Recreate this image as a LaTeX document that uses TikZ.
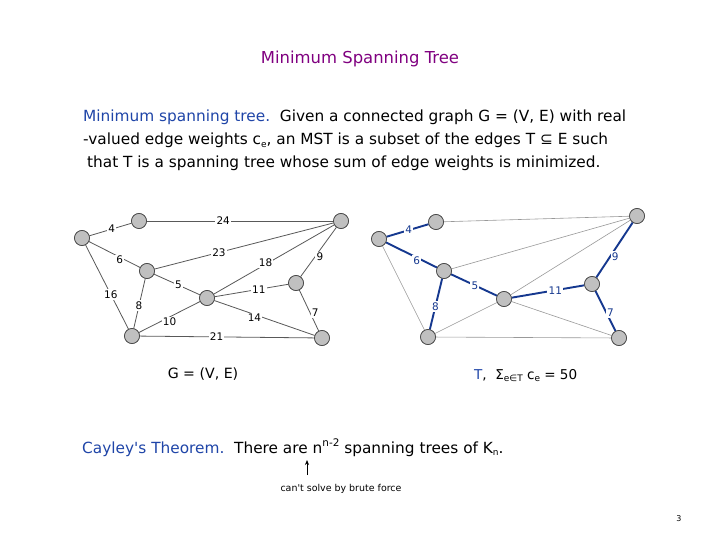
\documentclass[tikz,border=0pt]{standalone}
\usepackage{fontspec}
\setmainfont{DejaVu Sans}[Ligatures=TeXOff]
\usetikzlibrary{arrows.meta}
\definecolor{ttl}{HTML}{800080}
\definecolor{tblue}{HTML}{1F45A8}
\definecolor{eblue}{HTML}{15388F}
\definecolor{vgray}{HTML}{C0C0C0}
\newcommand\lowsub[1]{\raisebox{-0.35ex}{\fontsize{9}{9}\selectfont #1}}
\newcommand\highsup[1]{\raisebox{0.75ex}{\fontsize{10.5}{10.5}\selectfont #1}}
\tikzset{
  vtx/.style={circle,draw=black!75,line width=0.6bp,fill=vgray,minimum size=15bp,inner sep=0},
  gedge/.style={draw=black!65,line width=0.8bp},
  tedge/.style={draw=eblue,line width=1.9bp},
  ledge/.style={draw=black!40,line width=0.6bp},
  wlab/.style={fill=white,inner sep=1.2bp,font=\fontsize{10.5}{10.5}\selectfont},
  blab/.style={wlab,text=eblue},
  txt/.style={anchor=base west,inner sep=0,font=\fontsize{15.4}{15.4}\selectfont},
}
\begin{document}
\begin{tikzpicture}[x=1bp,y=-1bp]
\useasboundingbox (0,0) rectangle (720,557);
\fill[white] (0,0) rectangle (720,557);

% title
\node[anchor=base,inner sep=0,text=ttl,font=\fontsize{16.5}{16.5}\selectfont] (title) at (360,64) {Minimum Spanning Tree};

% paragraph
\node[txt] (p1) at (83,122) {\textcolor{tblue}{Minimum spanning tree.}\ \ Given a connected graph G = (V, E) with real};
\node[txt] (p2) at (83,145) {-valued edge weights c\lowsub{e}, an MST is a subset of the edges T ⊆ E such};
\node[txt] (p3) at (87,168) {that T is a spanning tree whose sum of edge weights is minimized.};

% left graph
\node[vtx] (a) at (82,238) {};
\node[vtx] (b) at (139,221) {};
\node[vtx] (c) at (341,221) {};
\node[vtx] (d) at (147,271) {};
\node[vtx] (e) at (207,298) {};
\node[vtx] (f) at (296,283) {};
\node[vtx] (g) at (132,336) {};
\node[vtx] (h) at (322,338) {};
\path (a) edge[gedge] node[wlab,pos=0.53] {4} (b)
      (b) edge[gedge] node[wlab,pos=0.41] {24} (c)
      (a) edge[gedge] node[wlab,pos=0.6,yshift=-3bp] {6} (d)
      (a) edge[gedge] node[wlab,pos=0.59] {16} (g)
      (d) edge[gedge] node[wlab,pos=0.36] {23} (c)
      (d) edge[gedge] node[wlab,pos=0.53] {5} (e)
      (d) edge[gedge] node[wlab,pos=0.54] {8} (g)
      (e) edge[gedge] node[wlab,pos=0.43,yshift=2bp] {18} (c)
      (e) edge[gedge] node[wlab,pos=0.6] {11} (f)
      (e) edge[gedge] node[wlab,pos=0.4,yshift=-3bp] {14} (h)
      (g) edge[gedge] node[wlab,pos=0.5,yshift=-5bp] {10} (e)
      (f) edge[gedge] node[wlab,pos=0.4,xshift=5bp] {9} (c)
      (f) edge[gedge] node[wlab,pos=0.56,xshift=5bp] {7} (h)
      (g) edge[gedge] node[wlab,pos=0.44] {21} (h);
\foreach \n in {a,b,c,d,e,f,g,h}
  \node[vtx] at (\n.center) {};

% right graph
\node[vtx] (ra) at (379,239) {};
\node[vtx] (rb) at (436,222) {};
\node[vtx] (rc) at (637,216) {};
\node[vtx] (rd) at (444,271) {};
\node[vtx] (re) at (504,299) {};
\node[vtx] (rf) at (592,284) {};
\node[vtx] (rg) at (428,337) {};
\node[vtx] (rh) at (619,338) {};
\path (rb) edge[ledge] (rc)
      (rd) edge[ledge] (rc)
      (re) edge[ledge] (rc)
      (ra) edge[ledge] (rg)
      (rg) edge[ledge] (re)
      (re) edge[ledge] (rh)
      (rg) edge[ledge] (rh);
\path (ra) edge[tedge] node[blab,pos=0.53] {4} (rb)
      (ra) edge[tedge] node[blab,pos=0.6,yshift=-3bp] {6} (rd)
      (rd) edge[tedge] node[blab,pos=0.52] {5} (re)
      (rd) edge[tedge] node[blab,pos=0.55] {8} (rg)
      (re) edge[tedge] node[blab,pos=0.6] {11} (rf)
      (rf) edge[tedge] node[blab,pos=0.38,xshift=5bp] {9} (rc)
      (rf) edge[tedge] node[blab,pos=0.55,xshift=4bp] {7} (rh);
\foreach \n in {ra,rb,rc,rd,re,rf,rg,rh}
  \node[vtx] at (\n.center) {};

% captions
\node[anchor=base,inner sep=0,font=\fontsize{14.2}{14.2}\selectfont] (capg) at (203,378) {G = (V, E)};
\node[anchor=base west,inner sep=0,font=\fontsize{13.6}{13.6}\selectfont] (capt) at (474,379) {\textcolor{tblue}{T},\ \ Σ\lowsub{e∈T} c\lowsub{e} = 50};

% Cayley
\node[txt] (cay) at (82,453) {\textcolor{tblue}{Cayley's Theorem.}\ \ There are n\highsup{n-2} spanning trees of K\lowsub{n}.};
\coordinate (atail) at (307,475);
\coordinate (ahead) at (307,460);
\draw[-{Stealth[length=5bp,width=4bp]},line width=0.7bp] (atail) -- (ahead);
\node[anchor=base,inner sep=0,font=\fontsize{9.5}{9.5}\selectfont] (brute) at (341,491) {can't solve by brute force};
\node[anchor=base,inner sep=0,font=\fontsize{8}{8}\selectfont] (pg) at (679,521) {3};
\end{tikzpicture}
\end{document}
